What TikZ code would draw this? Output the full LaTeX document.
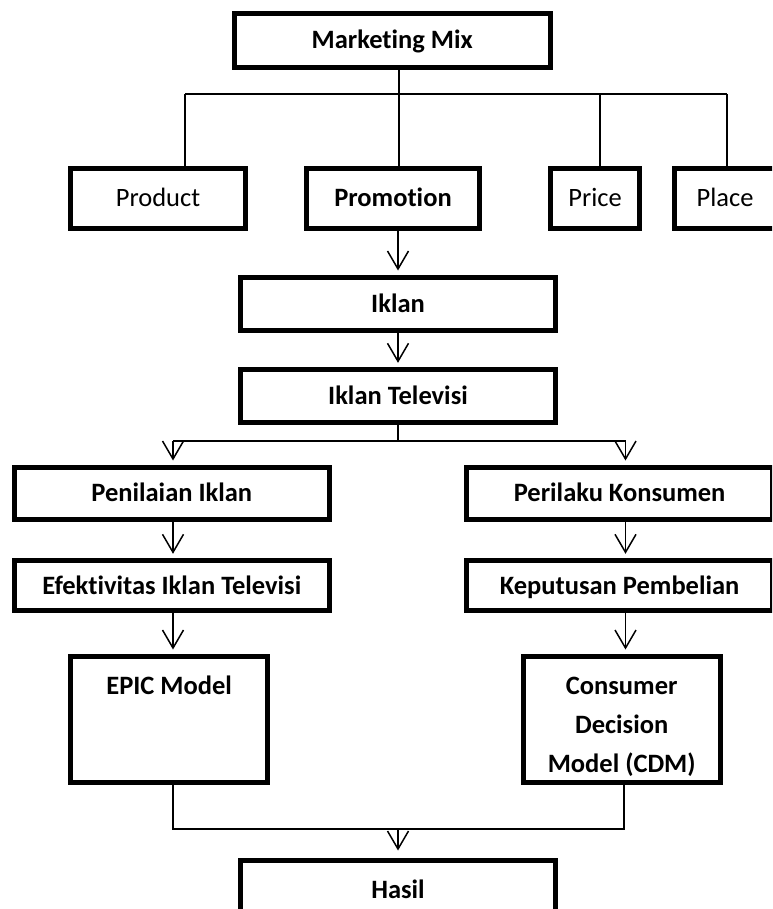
\documentclass[tikz,border=0pt]{standalone}
\usepackage{fontspec}
\setmainfont{Carlito}[Ligatures={NoCommon}]
\usetikzlibrary{arrows.meta}
\begin{document}
\begin{tikzpicture}[x=1pt,y=-1pt,
  box/.style={draw, line width=5pt, rectangle, inner sep=0pt,
    font=\fontsize{26.5}{39}\selectfont\bfseries, text height=16.7pt, text depth=0pt},
  rbox/.style={box, font=\fontsize{26.5}{39}\selectfont},
  conn/.style={line width=1.5pt},
  arr/.style={conn, -{Straight Barb[length=18pt,width=21pt]}, shorten >=4.5pt}]
\useasboundingbox (0,0) rectangle (772,909);
\fill[white] (0,0) rectangle (772,909);
\clip (0,0) rectangle (772,909);

% boxes
\node[box, minimum width=316pt, minimum height=54.3pt] (mm) at (392.2,40.35) {Marketing Mix};
\node[rbox, minimum width=174.4pt, minimum height=60.3pt] (prod) at (158,198.35) {Product};
\node[box, minimum width=172.4pt, minimum height=60.3pt] (prom) at (393,198.35) {Promotion};
\node[rbox, minimum width=89pt, minimum height=60.3pt] (price) at (595,198.35) {Price};
\node[rbox, minimum width=101pt, minimum height=60.3pt] (place) at (725,198.35) {Place};
\node[box, minimum width=315.6pt, minimum height=53.3pt] (ikl) at (398,304.15) {Iklan};
\node[box, minimum width=315.6pt, minimum height=52.7pt] (itv) at (398,396.15) {Iklan Televisi};
\node[box, minimum width=315.5pt, minimum height=52pt] (pen) at (171.75,493.5) {Penilaian Iklan};
\node[box, minimum width=305.7pt, minimum height=52pt] (per) at (619.6,493.5) {Perilaku Konsumen};
\node[box, minimum width=315.5pt, minimum height=50pt] (efe) at (171.75,585.8) {Efektivitas Iklan Televisi};
\node[box, minimum width=305.7pt, minimum height=50pt] (kep) at (619.6,585.8) {Keputusan Pembelian};
\node[box, minimum width=196.7pt, minimum height=126pt, text depth=67.5pt] (epic) at (169.15,719.5) {EPIC Model};
\node[box, align=center, minimum width=197pt, minimum height=126pt, text height=105pt, text depth=0pt] (cdm) at (621.7,719.5) {Consumer\\Decision\\Model (CDM)};
\node[box, minimum width=315pt, minimum height=60pt] (has) at (398,890) {Hasil};

% helper coordinates
\coordinate (b1) at (185,94);
\coordinate (b2) at (399,94);
\coordinate (b3) at (600,94);
\coordinate (b4) at (727,94);
\coordinate (sm) at (398,441);
\coordinate (sl) at (173,441);
\coordinate (sr) at (625.5,441);
\coordinate (jl) at (173,829);
\coordinate (jr) at (624,829);

% top tree
\draw[conn] (mm.south -| b2) -- (b2);
\draw[conn] (b1) -- (b4);
\draw[conn] (b1) -- (b1 |- prod.north);
\draw[conn] (b2) -- (b2 |- prom.north);
\draw[conn] (b3) -- (b3 |- price.north);
\draw[conn] (b4) -- (b4 |- place.north);

% middle chain
\draw[arr] (prom.south -| ikl.north) -- (ikl.north);
\draw[arr] (ikl.south) -- (itv.north);
\draw[conn] (itv.south) -- (sm);
\draw[conn] (sl) -- (sr);
\draw[arr] (sl) -- (sl |- pen.north);
\draw[arr] (sr) -- (sr |- per.north);

% left column
\draw[arr] (pen.south -| sl) -- (efe.north -| sl);
\draw[arr] (efe.south -| sl) -- (epic.north -| sl);
% right column
\draw[arr] (per.south -| sr) -- (kep.north -| sr);
\draw[arr] (kep.south -| sr) -- (cdm.north -| sr);

% join
\draw[conn] (epic.south -| jl) -- (jl) -- (jr) -- (cdm.south -| jr);
\draw[arr, shorten >=7pt] (has.north |- jl) -- (has.north);
\end{tikzpicture}
\end{document}
